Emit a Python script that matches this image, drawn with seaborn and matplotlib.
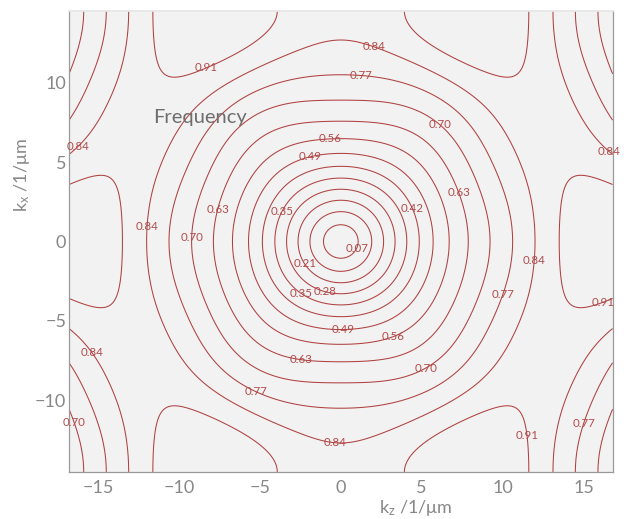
import numpy as np
import matplotlib
matplotlib.use("Agg")
import matplotlib.pyplot as plt
import seaborn as sns

# ---------------- data ----------------
levels = [0.07, 0.14, 0.21, 0.28, 0.35, 0.42, 0.49, 0.56, 0.63, 0.70, 0.77, 0.84, 0.91]

# crossing radius of each contour along kz (kx = 0)
gk_radius = [1.43, 2.09, 2.71, 3.33, 3.95, 4.64, 5.40, 6.55, 7.95, 9.20, 10.50, 11.75, 13.95]
# crossing radius along kx (kz = 0)   (levels 0.07 ... 0.84)
gm_radius = [1.34, 2.00, 2.62, 3.21, 3.82, 4.50, 5.35, 6.40, 7.80, 9.20, 10.60, 12.65]

# crossings on the right edge (kz = 16.8)
edge_right_kx = [3.52, 5.8, 8.2, 11.0, 13.1]
edge_right_level = [0.91, 0.84, 0.77, 0.70, 0.63]
# crossings on the top edge (kx = 14.5)
edge_top_kz = [0.0, 4.3, 11.5, 13.4, 14.9, 16.2]
edge_top_level = [0.875, 0.91, 0.91, 0.84, 0.77, 0.70]

# points (upper-right quadrant, mirrored readings)
trace_kz = [2.2, 4.1, 5.23, 6.2, 7.5, 8.94, 10.6, 11.4,
            2.04, 4.1, 6.2, 8.2, 9.46, 10.3,
            2.04, 4.1, 6.2, 7.8, 8.85,
            3.07, 5.75, 7.2, 8.0,
            6.47, 8.5, 9.97, 10.9, 11.4,
            13.7, 14.7]
trace_kx = [12.16, 11.5, 10.9, 10.5, 9.43, 7.96, 5.65, 3.4,
            10.38, 9.64, 8.6, 7.0, 5.44, 3.55,
            8.97, 8.38, 7.23, 5.65, 3.55,
            7.54, 6.07, 4.39, 2.71,
            11.73, 10.68, 10.68, 11.3, 13.2,
            11.3, 8.17]
trace_level = [0.84] * 8 + [0.77] * 6 + [0.70] * 5 + [0.63] * 4 + [0.91] * 5 + [0.84] * 2

# label positions (per level) as in the reference
label_pos = {
    0.07: [(2.0, -0.84)],
    0.21: [(-2.05, -1.32)],
    0.28: [(-1.0, -3.14)],
    0.35: [(-2.9, 1.47), (-2.3, -3.08)],
    0.42: [(4.64, 2.2)],
    0.49: [(-1.71, 4.62), (0.15, -5.8)],
    0.56: [(-0.64, 6.19), (3.5, -6.56)],
    0.63: [(7.75, 3.25), (-6.96, 1.89), (-2.5, -7.65)],
    0.70: [(5.88, 7.03), (-8.61, 0.28), (5.4, -8.18), (-16.2, -11.26)],
    0.77: [(1.18, 10.1), (10.58, -3.56), (-5.03, -9.01), (15.9, -11.74)],
    0.84: [(1.95, 12.06), (16.6, 5.7), (-11.2, 0.94), (-16.0, 5.72),
           (12.4, -1.26), (-15.34, -6.98), (-0.37, -12.89)],
    0.91: [(-8.09, 10.48), (16.24, -3.88), (11.89, -12.16)],
}

KZ_MAX, KX_MAX = 16.8, 14.5

# ---------------- periodic (hexagonal lattice) field through the readings ----------------
pts_z = np.concatenate([[0.0], gk_radius, np.zeros(len(gm_radius)),
                        np.full(len(edge_right_kx), KZ_MAX), edge_top_kz, trace_kz])
pts_x = np.concatenate([[0.0], np.zeros(len(gk_radius)), gm_radius,
                        edge_right_kx, np.full(len(edge_top_kz), KX_MAX), trace_kx])
pts_f = np.concatenate([[0.0], levels[:len(gk_radius)], levels[:len(gm_radius)],
                        edge_right_level, edge_top_level, trace_level])

GAMMA = 1.4          # fit f**GAMMA (smooth at the band bottom)
M = KX_MAX
pq = [(p, q) for p in range(0, 9) for q in range(0, 5)
      if (p - q) % 2 == 0 and p * p + 3 * q * q <= 28]
order = np.array([p * p + 3 * q * q for p, q in pq], dtype=float)


def basis(kz, kx):
    return np.stack([np.cos(kz * np.pi * p / (np.sqrt(3) * M)) * np.cos(kx * np.pi * q / M)
                     for p, q in pq], axis=-1)


A = basis(pts_z, pts_x)
reg = np.diag(2e-6 * order ** 2)
coef = np.linalg.solve(A.T @ A + reg, A.T @ (pts_f ** GAMMA))

kz = np.linspace(-KZ_MAX, KZ_MAX, 420)
kx = np.linspace(-KX_MAX, KX_MAX, 380)
KZ, KX = np.meshgrid(kz, kx)
F = np.clip(basis(KZ, KX) @ coef, 0, None) ** (1.0 / GAMMA)

# ---------------- drawing ----------------
sns.set_theme(style="white")
plt.rcParams['font.family'] = ['Lato', 'DejaVu Sans']
plt.rcParams['mathtext.default'] = 'regular'

fig = plt.figure(figsize=(6.29, 5.19), dpi=100)
ax = fig.add_axes([0.1097, 0.0906, 0.8643, 0.8882])
ax.set_facecolor('#f2f2f2')
ax.set_xlim(-KZ_MAX, KZ_MAX)
ax.set_ylim(-KX_MAX, KX_MAX)

line_col = '#b04040'
cs = ax.contour(KZ, KX, F, levels=levels, colors=line_col, linewidths=0.75)

# labels: snap each requested position onto its own level's contour
paths = cs.get_paths()
sx = 1.0 / (2 * KZ_MAX)
sy = 1.0 / (2 * KX_MAX) * (0.8882 * 5.19) / (0.8643 * 6.29)
for lev, pos in label_pos.items():
    i = int(np.argmin(np.abs(np.asarray(cs.levels) - lev)))
    v = paths[i].vertices
    if len(v) == 0:
        continue
    for (px, py) in pos:
        d = ((v[:, 0] - px) * sx) ** 2 + ((v[:, 1] - py) * sy) ** 2
        j = int(np.argmin(d))
        ax.text(v[j, 0], v[j, 1], f'{cs.levels[i]:.2f}', fontsize=8.3, color='#b24a4a',
                ha='center', va='center', clip_on=False)

grey = '#878787'
ax.set_xticks([-15, -10, -5, 0, 5, 10, 15])
ax.set_yticks([-10, -5, 0, 5, 10])
ax.set_xticks(np.arange(-16, 17, 1), minor=True)
ax.set_yticks(np.arange(-14, 15, 1), minor=True)
ax.tick_params(axis='both', which='both', direction='in', colors=grey,
               top=False, right=False, labelsize=13, width=0.8)
ax.tick_params(axis='both', which='major', length=10)
ax.tick_params(axis='both', which='minor', length=4.8)
ax.tick_params(axis='x', which='major', pad=5.5)
ax.tick_params(axis='y', which='major', pad=2)

for side in ['left', 'bottom', 'right']:
    ax.spines[side].set_color('#9a9a9a')
    ax.spines[side].set_linewidth(0.9)
ax.spines['top'].set_color('#e6e6e6')

ax.set_xlabel('k$_{z}$ /1/μm', fontsize=13, color=grey)
ax.set_ylabel('k$_{x}$ /1/μm', fontsize=13, color=grey)
ax.xaxis.set_label_coords(0.638, -0.056)
ax.yaxis.set_label_coords(-0.068, 0.644)

ax.text(-11.6, 7.8, 'Frequency', fontsize=14.5, color='#6e6e6e',
        va='center', ha='left')

fig.savefig('out.png', dpi=100)
